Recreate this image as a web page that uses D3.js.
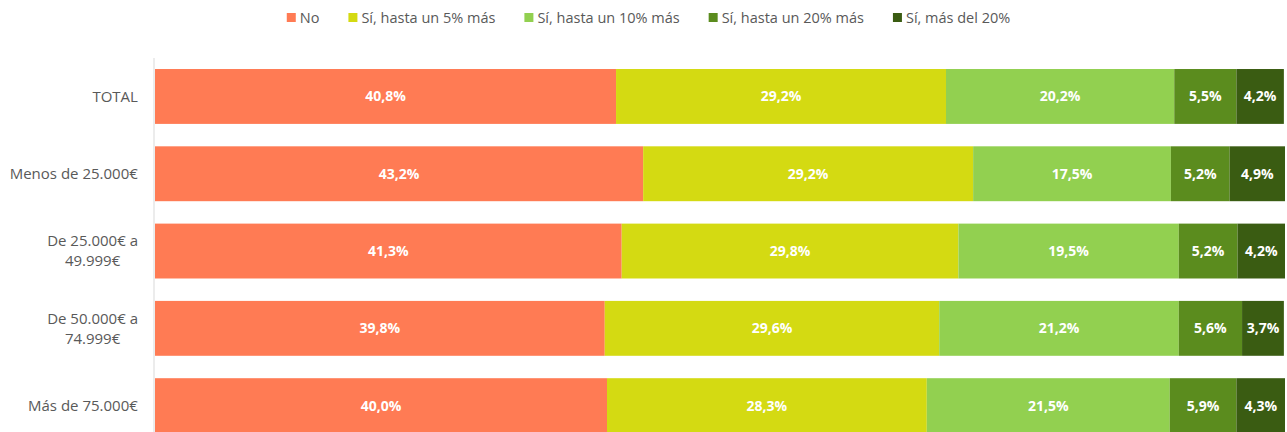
<!DOCTYPE html>
<html lang="es">
<head>
<meta charset="UTF-8">
<title>Gráfico de barras apiladas</title>
<style>
  body { margin: 0; background: #fff; }
  svg text { font-family: "Open Sans", sans-serif; }
</style>
<script src="https://cdn.jsdelivr.net/npm/d3@7"></script>
</head>
<body>
<svg id="chart" width="1287" height="432"></svg>
<script>
const categories = ["TOTAL", "Menos de 25.000€", "De 25.000€ a 49.999€", "De 50.000€ a 74.999€", "Más de 75.000€"];
const labelLines = [["TOTAL"], ["Menos de 25.000€"], ["De 25.000€ a", "49.999€"], ["De 50.000€ a", "74.999€"], ["Más de 75.000€"]];
const seriesNames = ["No", "Sí, hasta un 5% más", "Sí, hasta un 10% más", "Sí, hasta un 20% más", "Sí, más del 20%"];
const colors = ["#FF7B54", "#D4DA12", "#92D050", "#5B8C1E", "#3A5C12"];
const no      = [40.8, 43.2, 41.3, 39.8, 40.0];
const hasta5  = [29.2, 29.2, 29.8, 29.6, 28.3];
const hasta10 = [20.2, 17.5, 19.5, 21.2, 21.5];
const hasta20 = [5.5, 5.2, 5.2, 5.6, 5.9];
const mas20   = [4.2, 4.9, 4.2, 3.7, 4.3];
const seriesValues = [no, hasta5, hasta10, hasta20, mas20];

const svg = d3.select("#chart");
const fmt = v => d3.format(".1f")(v).replace(".", ",") + "%";

const rows = categories.map((c, i) => {
    const r = { cat: c };
    seriesNames.forEach((s, j) => r[s] = seriesValues[j][i]);
    return r;
});
const stacked = d3.stack().keys(seriesNames)(rows);

const x = d3.scaleLinear().domain([0, 100]).range([155, 1285]);
const y = d3.scaleBand().domain(categories).range([46.6, 455.5]).paddingInner(0.29).paddingOuter(0.29);

// bars
const groups = svg.append("g").selectAll("g")
    .data(stacked).join("g")
    .attr("fill", (d, i) => colors[i]);

groups.selectAll("rect")
    .data(d => d).join("rect")
    .attr("x", d => x(d[0]))
    .attr("y", d => y(d.data.cat))
    .attr("width", d => x(d[1]) - x(d[0]))
    .attr("height", y.bandwidth());

groups.selectAll("text")
    .data(d => d.map(v => ({ v, key: d.key }))).join("text")
    .attr("x", d => (x(d.v[0]) + x(d.v[1])) / 2)
    .attr("y", d => y(d.v.data.cat) + y.bandwidth() / 2)
    .attr("dy", "0.35em")
    .attr("text-anchor", "middle")
    .attr("fill", "#fff")
    .attr("font-weight", "bold")
    .attr("font-size", 14)
    .text(d => fmt(d.v[1] - d.v[0]));

// y axis line
svg.append("line")
    .attr("x1", 154).attr("x2", 154)
    .attr("y1", 58).attr("y2", 432)
    .attr("stroke", "#d9d9d9").attr("stroke-width", 1);

// category labels
categories.forEach((c, i) => {
    const lines = labelLines[i];
    const cy = y(c) + y.bandwidth() / 2;
    const t = svg.append("text")
        .attr("text-anchor", "middle")
        .attr("fill", "#595959")
        .attr("font-size", 15);
    lines.forEach((ln, k) => {
        t.append("tspan")
            .attr("x", 0)
            .attr("y", cy + (k - (lines.length - 1) / 2) * 20)
            .attr("dy", "0.35em")
            .text(ln);
    });
    const bb = t.node().getBBox();
    t.attr("transform", `translate(${138 - bb.width / 2},0)`);
});

// legend
const legend = svg.append("g");
let lx = 0;
seriesNames.forEach((s, i) => {
    legend.append("rect")
        .attr("x", lx).attr("y", 13).attr("width", 9).attr("height", 9)
        .attr("fill", colors[i]);
    const t = legend.append("text")
        .attr("x", lx + 13).attr("y", 17.5).attr("dy", "0.35em")
        .attr("fill", "#595959").attr("font-size", 14.5)
        .text(s);
    lx += 13 + t.node().getComputedTextLength() + 29;
});
const legendW = lx - 29;
legend.attr("transform", `translate(${648.5 - legendW / 2},0)`);
</script>
</body>
</html>
